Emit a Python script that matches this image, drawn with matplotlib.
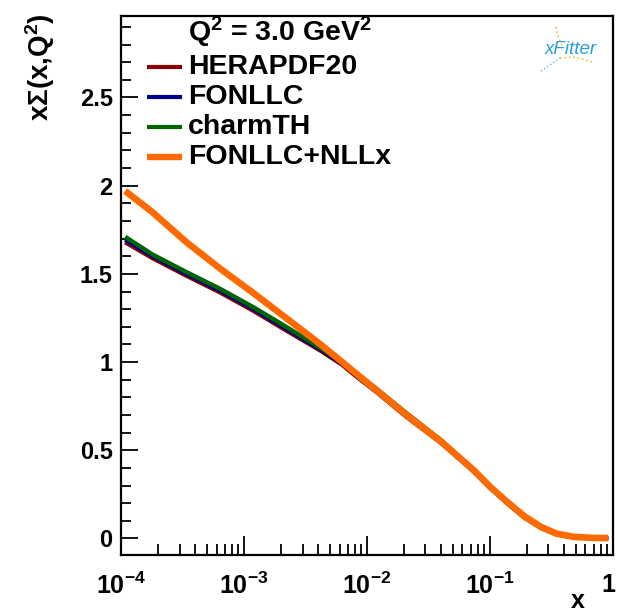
import numpy as np
import matplotlib
matplotlib.use("Agg")
import matplotlib.pyplot as plt
import matplotlib.transforms as mtransforms
from matplotlib.lines import Line2D
from matplotlib.ticker import FixedLocator, LogLocator, NullFormatter, FuncFormatter

plt.rcParams['font.family'] = ['Liberation Sans', 'DejaVu Sans']
plt.rcParams['font.weight'] = 'bold'
plt.rcParams['mathtext.fontset'] = 'custom'
plt.rcParams['mathtext.rm'] = 'Liberation Sans:bold'
plt.rcParams['mathtext.bf'] = 'Liberation Sans:bold'
plt.rcParams['mathtext.it'] = 'Liberation Sans:bold:italic'

# x grid and x*Sigma(x,Q^2)
x_vals = [1.08e-4, 1.8e-4, 3.4e-4, 6.4e-4, 1.2e-3, 2.2e-3, 4.2e-3, 6.3e-3, 8e-3, 1.2e-2, 2.1e-2,
          4e-2, 7.4e-2, 0.1, 0.137, 0.19, 0.26, 0.35, 0.48, 0.7, 0.92]
herapdf = [1.68, 1.59, 1.49, 1.395, 1.29, 1.18, 1.065, 0.985, 0.925, 0.83, 0.69,
           0.543, 0.38, 0.29, 0.205, 0.122, 0.062, 0.025, 0.008, 0.002, 0.001]
fonllc = [1.695, 1.60, 1.50, 1.405, 1.30, 1.19, 1.072, 0.99, 0.932, 0.835, 0.695,
          0.548, 0.383, 0.292, 0.207, 0.124, 0.063, 0.025, 0.008, 0.002, 0.001]
charmth = [1.71, 1.61, 1.51, 1.415, 1.31, 1.20, 1.08, 0.998, 0.943, 0.848, 0.71,
           0.558, 0.39, 0.29, 0.202, 0.12, 0.06, 0.023, 0.007, 0.002, 0.001]
nllx = [1.97, 1.85, 1.68, 1.53, 1.39, 1.25, 1.10, 1.00, 0.94, 0.84, 0.70,
        0.55, 0.387, 0.295, 0.21, 0.127, 0.066, 0.027, 0.009, 0.003, 0.002]

labels = ['HERAPDF20', 'FONLLC', 'charmTH', 'FONLLC+NLLx']
colors = ['#8b0000', '#00008b', '#006400', '#ff6a00']
widths = [3.2, 3.2, 3.2, 4.8]
xticklabs = [r'$\mathbf{10^{-4}}$', r'$\mathbf{10^{-3}}$', r'$\mathbf{10^{-2}}$', r'$\mathbf{10^{-1}}$', r'$\mathbf{1}$']

fig = plt.figure(figsize=(6.18, 6.13), dpi=100)
ax = fig.add_axes([0.1958, 0.0946, 0.7956, 0.8793])

for ys, lab, c, lw in zip([herapdf, fonllc, charmth, nllx], labels, colors, widths):
    ax.plot(x_vals, ys, color=c, lw=lw, label=lab, solid_capstyle='butt', solid_joinstyle='round')

ax.set_xscale('log')
ax.set_xlim(1e-4, 1)
ax.set_ylim(-0.094, 2.962)

ax.yaxis.set_major_locator(FixedLocator([0, 0.5, 1, 1.5, 2, 2.5]))
ax.yaxis.set_minor_locator(FixedLocator(np.arange(0, 3.0, 0.1)))
ax.yaxis.set_major_formatter(FuncFormatter(lambda v, p: '%g' % v))
ax.xaxis.set_major_locator(FixedLocator([1e-4, 1e-3, 1e-2, 1e-1, 1]))
ax.xaxis.set_minor_locator(LogLocator(base=10, subs=np.arange(2, 10), numticks=20))
ax.xaxis.set_minor_formatter(NullFormatter())
ax.set_xticklabels(xticklabs)

ax.tick_params(which='both', direction='in', top=False, right=False, width=1.3)
ax.tick_params(axis='y', which='major', length=12, labelsize=17, pad=6)
ax.tick_params(axis='y', which='minor', length=7)
ax.tick_params(axis='x', which='major', length=14, labelsize=18, pad=13)
ax.tick_params(axis='x', which='minor', length=8)
for s in ax.spines.values():
    s.set_linewidth(1.6)

# nudge the last x label so it stays inside the canvas
lastlab = ax.get_xticklabels()[-1]
lastlab.set_transform(lastlab.get_transform() + mtransforms.ScaledTranslation(-0.04, 0, fig.dpi_scale_trans))

fig.text(0.935, 0.0, 'x', fontsize=18, fontweight='bold', ha='center', va='bottom')
fig.text(0.065, 0.978, r'x$\Sigma$(x,Q$^2$)', fontsize=20, fontweight='bold',
         rotation=90, ha='center', va='top')

# legend drawn by hand, ROOT style
fig.text(188 / 618, 1 - 32 / 613, r'Q$^2$ = 3.0 GeV$^2$', fontsize=20.5, fontweight='bold',
         ha='left', va='center')
for i, (lab, c, lw) in enumerate(zip(labels, colors, widths)):
    yy = 1 - (67 + 30 * i) / 613
    fig.add_artist(Line2D([147 / 618, 182 / 618], [yy, yy], color=c, lw=lw - 0.2,
                          solid_capstyle='butt', transform=fig.transFigure))
    fig.text(188 / 618, yy, lab, fontsize=20.5, fontweight='bold', ha='left', va='center')

# xFitter logo
fig.add_artist(Line2D([556 / 618, 558 / 618, 562 / 618], [1 - 27 / 613, 1 - 36 / 613, 1 - 46 / 613],
                      color='#f2c12e', lw=1.2, ls=':', transform=fig.transFigure))
fig.add_artist(Line2D([560 / 618, 575 / 618, 592 / 618], [1 - 58 / 613, 1 - 57 / 613, 1 - 62 / 613],
                      color='#f2c12e', lw=1.2, ls=':', transform=fig.transFigure))
fig.add_artist(Line2D([541 / 618, 560 / 618], [1 - 71 / 613, 1 - 58 / 613],
                      color='#5fb4e0', lw=1.0, ls=':', transform=fig.transFigure))
fig.text(0.924, 0.920, 'xFitter', fontsize=13.5, style='italic', fontweight='normal',
         color='#2a9fd8', ha='center', va='center')

fig.savefig('out.png', dpi=100)
